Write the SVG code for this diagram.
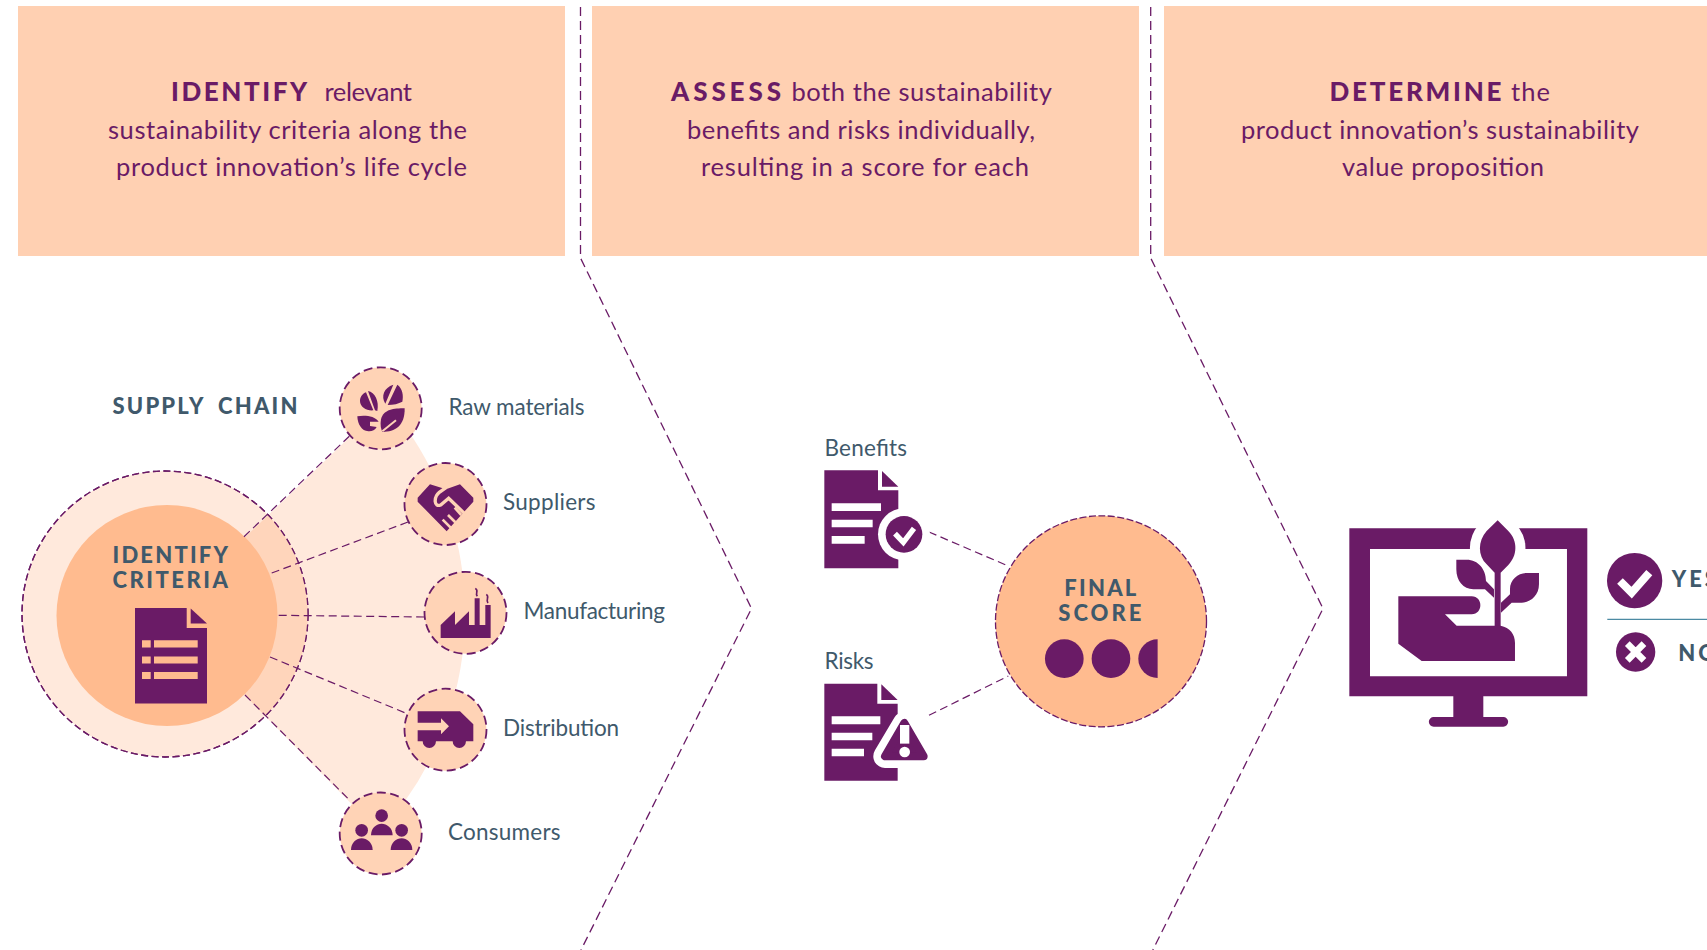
<svg xmlns="http://www.w3.org/2000/svg" width="1707" height="950" viewBox="0 0 1707 950">
<style>
.p{fill:#6a1b66}
.panel{fill:#ffd0b2}
.dash{fill:none;stroke:#6a1b66;stroke-width:1.3;stroke-dasharray:9 5}
.ring{stroke:#6a1b66;stroke-width:1.3;stroke-dasharray:7 3.5}
.small{fill:#ffd3b6;stroke:#6a1b66;stroke-width:1.8;stroke-dasharray:9 4.5}
.conn{fill:none;stroke:#6a1b66;stroke-width:1.2;stroke-dasharray:8 4.5}
.t{font-family:"Lato","Liberation Sans",sans-serif;font-size:25.5px;fill:#6a1b66}
.b{font-family:"Lato","Liberation Sans",sans-serif;font-size:26px;font-weight:900;fill:#6a1b66}
.l{font-family:"Lato","Liberation Sans",sans-serif;font-size:22.5px;fill:#40596b}
.h{font-family:"Lato","Liberation Sans",sans-serif;font-size:22px;font-weight:900;fill:#40596b}
</style>
<defs>
<clipPath id="outerClip"><circle cx="165" cy="613" r="143"/></clipPath>
<path id="wedge" d="M165 613L380 407L413 437A322 322 0 0 1 405 800L380 832Z"/>
</defs>
<rect width="1707" height="950" fill="#fff"/>

<g id="panel-identify">
<rect class="panel" x="18" y="6" width="547" height="250"/>
<text class="b" y="101" x="171" textLength="136">IDENTIFY</text>
<text class="t" y="101" x="324.4" textLength="87.6">relevant</text>
<text class="t" y="139" x="108" textLength="359">sustainability criteria along the</text>
<text class="t" y="176" x="116" textLength="351">product innovation’s life cycle</text>
</g>
<g id="panel-assess">
<rect class="panel" x="592" y="6" width="547" height="250"/>
<text class="b" y="101" x="671" textLength="110">ASSESS</text>
<text class="t" y="101" x="791.4" textLength="260.6">both the sustainability</text>
<text class="t" y="139" x="687" textLength="348">benefits and risks individually,</text>
<text class="t" y="176" x="701" textLength="328">resulting in a score for each</text>
</g>
<g id="panel-determine">
<rect class="panel" x="1164" y="6" width="543" height="250"/>
<text class="b" y="101" x="1329.5" textLength="172">DETERMINE</text>
<text class="t" y="101" x="1511" textLength="39">the</text>
<text class="t" y="139" x="1241" textLength="398">product innovation’s sustainability</text>
<text class="t" y="176" x="1342" textLength="202">value proposition</text>
</g>

<g id="connectors">
<path class="dash" d="M580.5 7V258L751.5 608.5L581 950"/>
<path class="dash" d="M1150.7 7V258L1323 608.5L1152.8 950"/>
</g>

<g transform="translate(0 1)">
<g id="fan">
<use href="#wedge" fill="#ffe9dc"/>
</g>
<g id="identify-criteria">
<circle class="ring" cx="165" cy="613" r="143" fill="#ffe9dc"/>
<use href="#wedge" fill="#ffd5bb" clip-path="url(#outerClip)"/>
<circle class="ring" cx="165" cy="613" r="143" fill="none"/>
<circle cx="167" cy="614.5" r="110.5" fill="#ffbb8f"/>
<text class="h" x="112.5" y="561.5" textLength="115.5">IDENTIFY</text>
<text class="h" x="112.5" y="587" textLength="115.5">CRITERIA</text>
<path class="p" d="M135 607H186.7V627H207V702.5H135Z"/>
<path class="p" d="M190.7 607.5L207 622.5H190.7Z"/>
<path fill="#ffbb8f" d="M142 639.3h8.7v7.1H142zM154 639.3h43.7v7.1H154zM142 655.4h8.7v7.1H142zM154 655.4h43.7v7.1H154zM142 671h8.7v7.1H142zM154 671h43.7v7.1H154z"/>
</g>
<g id="spokes">
<path class="conn" d="M244 535.7L350 434.6"/>
<path class="conn" d="M271.7 572L408 521"/>
<path class="conn" stroke-width="1.6" d="M278.7 614.3L425 616"/>
<path class="conn" d="M270 656L406.7 712.5"/>
<path class="conn" d="M245 694L350 799.6"/>
</g>

<text class="h" x="112.5" y="412.5" textLength="185" style="word-spacing:6px">SUPPLY CHAIN</text>

<g id="raw-materials">
<circle class="small" cx="380.7" cy="407.3" r="41"/>
<g transform="translate(320 350) scale(.3333)">
<path class="p" d="M120 150C120 138 128 128 138 124L160 178C140 180 120 168 120 150ZM144 120C165 124 178 150 172 180L165 178ZM220 101L196 158C182 135 192 110 220 101ZM232 101C248 112 251 135 247 152C236 158 220 162 203 162Z"/>
<path class="p" d="M254 172C222 172 190 175 183 205C180 222 183 235 187 243C225 243 255 225 254 172Z"/>
<path d="M187 241L228 208" stroke="#ffd3b6" stroke-width="6" fill="none"/>
<path class="p" d="M112 196C135 192 165 195 176 212L150 212L150 225L170 228C165 238 155 242 145 241C125 240 113 220 112 196Z"/>
</g>
<text class="l" x="448.5" y="413.5" textLength="136">Raw materials</text>
</g>
<g id="suppliers">
<circle class="small" cx="445.5" cy="503" r="41"/>
<g transform="translate(320 350) scale(.3333)">
<path class="p" d="M293 440L330 400L378 415L420 400L460 440V452L380 541L293 452Z"/>
<path d="M378 410L358 424C340 440 342 470 362 462L386 442L434 488" stroke="#ffd3b6" stroke-width="10" fill="none"/>
<path d="M424 492L404 470M406 514L384 492M392 530L368 506" stroke="#ffd3b6" stroke-width="8" fill="none"/>
</g>
<text class="l" x="503" y="508.7" textLength="92.5">Suppliers</text>
</g>
<g id="manufacturing">
<circle class="small" cx="465.5" cy="611.8" r="41"/>
<g transform="translate(320 560) scale(.3333)">
<path class="p" d="M362 231V192L405 151V192L447 151V192H464V112H479V192H496V132H512V231Z"/>
<path d="M466 82C478 90 464 95 472 106M499 100C510 108 496 114 504 126" stroke="#6a1b66" stroke-width="5" fill="none"/>
</g>
<text class="l" x="523.5" y="618" textLength="141.5">Manufacturing</text>
</g>
<g id="distribution">
<circle class="small" cx="445.5" cy="728.7" r="41"/>
<g transform="translate(320 560) scale(.3333)">
<path class="p" d="M293 451H420L460 490V541H438A20 20 0 0 1 398 541H348A20 20 0 0 1 308 541H293V508H363V520L387 496L363 472V485H293Z"/>
</g>
<text class="l" x="503" y="735" textLength="116">Distribution</text>
</g>
<g id="consumers">
<circle class="small" cx="380.7" cy="832.5" r="41"/>
<g transform="translate(320 560) scale(.3333)" class="p">
<circle cx="185" cy="764" r="19"/><path d="M153 823C153 800 170 788 185 788C200 788 218 800 218 823Z"/>
<circle cx="125" cy="808" r="19"/><path d="M93 867C93 845 110 832 125 832C140 832 158 845 158 867Z"/>
<circle cx="245" cy="808" r="19"/><path d="M212 867C212 845 229 832 245 832C260 832 277 845 277 867Z"/>
</g>
<text class="l" x="448" y="838.5" textLength="112.5">Consumers</text>
</g>

<g id="score-links">
<path class="conn" d="M929 531L1008.3 565"/>
<path class="conn" d="M929 714.3L1008.3 675"/>
</g>
<g id="benefits">
<text class="l" x="824.5" y="454.5" textLength="82.5">Benefits</text>
<g transform="translate(800 420) scale(.3333)">
<path class="p" d="M73 148H234V208H295V442H73Z"/>
<path class="p" d="M246 150L295 197H246Z"/>
<path fill="#fff" d="M95 247H243V270H95ZM95 296H218V319H95ZM95 345H194V368H95Z"/>
<circle cx="312" cy="340" r="78" fill="#fff"/>
<circle class="p" cx="312" cy="340" r="55"/>
<path d="M285 338L310 364L342 322" stroke="#fff" stroke-width="16" fill="none"/>
</g>
</g>
<g id="risks">
<text class="l" x="824.5" y="667.5" textLength="49">Risks</text>
<g transform="translate(800 420) scale(.3333)">
<path class="p" d="M73 788H232V848H293V1079H73Z"/>
<path class="p" d="M244 790L293 837H244Z"/>
<path fill="#fff" d="M95 886H241V910H95ZM95 935H217V958H95ZM95 983H192V1006H95Z"/>
<path d="M313 908L255 1006H371Z" fill="#fff" stroke="#fff" stroke-width="70" stroke-linejoin="round"/>
<path class="p" d="M313 906L255 1006H371Z" stroke="#6a1b66" stroke-width="24" stroke-linejoin="round"/>
<path fill="#fff" d="M300 912H328V968H300Z"/>
<circle cx="314" cy="993" r="16" fill="#fff"/>
</g>
</g>
<g id="final-score">
<circle cx="1101" cy="620.3" r="105.5" fill="#ffbb8f" stroke="#6a1b66" stroke-width="1.3" stroke-dasharray="7 2.5"/>
<text class="h" x="1064.3" y="594.7" textLength="72">FINAL</text>
<text class="h" x="1058.3" y="620" textLength="83">SCORE</text>
<g transform="translate(800 420) scale(.3333)" class="p">
<circle cx="793" cy="713" r="58"/><circle cx="933" cy="713" r="58"/>
<path d="M1073 655A58 58 0 0 0 1073 771Z"/>
</g>
</g>
<g id="decision">
<g transform="translate(1330 500) scale(.3333)">
<path class="p" d="M58 82H772V586H460V648H520A14.5 14.5 0 0 1 520 677H311A14.5 14.5 0 0 1 311 648H370V586H58ZM120 144V526H711V144Z" fill-rule="evenodd"/>
<path fill="#fff" stroke="#fff" stroke-width="60" d="M503 58L535 90C565 120 562 165 535 192L503 215L470 190C443 165 443 120 470 90Z"/>
<path class="p" d="M503 58L535 90C565 120 562 165 535 192L512 215V375H494V215L470 190C443 165 443 120 470 90Z"/>
<path class="p" d="M379 176H410C445 176 468 205 468 240L492 265V290L465 265H430C400 265 379 240 379 205Z"/>
<path class="p" d="M627 216V250C627 285 600 305 575 305H545L513 335V305L540 280V265C540 235 565 216 590 216Z"/>
<path class="p" d="M205 286H425C460 286 460 340 425 340H345L380 374H512C540 380 555 400 555 425V480H275L205 428Z"/>
<circle class="p" cx="914" cy="239" r="83"/>
<path d="M870 240L905 275L958 215" stroke="#fff" stroke-width="24" fill="none"/>
<circle class="p" cx="917" cy="453" r="59"/>
<path d="M892 428L942 478M942 428L892 478" stroke="#fff" stroke-width="20" fill="none"/>
</g>
<path d="M1607.3 618.3H1707" stroke="#4c8aa3" stroke-width="1.2"/>
<text class="h" x="1671.7" y="586" style="letter-spacing:3px">YES</text>
<text class="h" x="1678.3" y="660" style="letter-spacing:3px">NO</text>
</g>
</g>
</svg>
